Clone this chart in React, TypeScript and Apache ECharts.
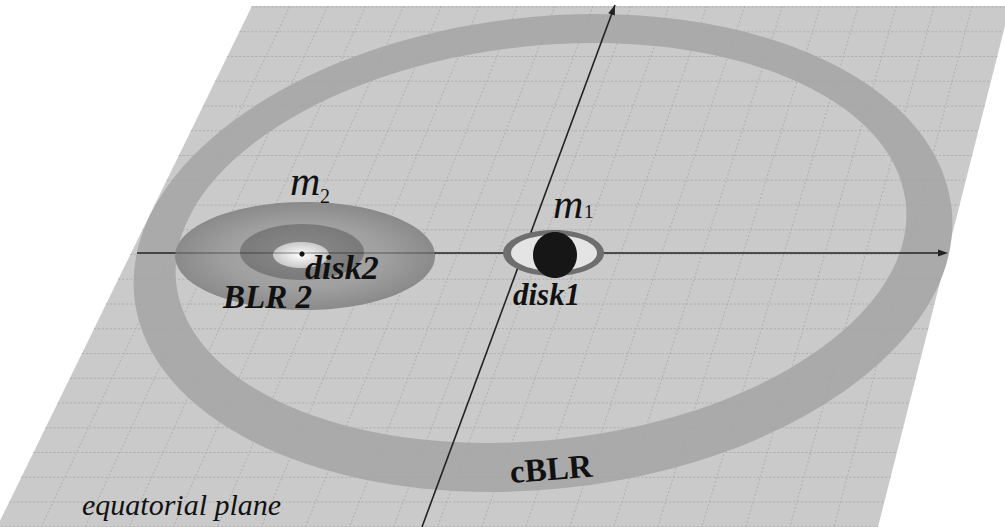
import { useEffect, useRef } from "react";
import * as echarts from "echarts";

// labels of the diagram
const massLabels = ["m", "m"];
const massIndex = ["2", "1"];
const regionLabels = ["disk2", "BLR 2", "disk1"];
const ringLabel = "cBLR";
const planeLabel = "equatorial plane";

// plane corners (top-left, top-right, bottom-right, bottom-left)
const plane = [
  [252, 6],
  [1010, 6],
  [878, 527],
  [-3, 527],
];

const SERIF = "Liberation Serif";

function leftX(y: number) {
  return plane[0][0] + ((plane[3][0] - plane[0][0]) * (y - plane[0][1])) / (plane[3][1] - plane[0][1]);
}
function rightX(y: number) {
  return plane[1][0] + ((plane[2][0] - plane[1][0]) * (y - plane[1][1])) / (plane[2][1] - plane[1][1]);
}

function arrowHead(tip: number[], from: number[], len: number, half: number) {
  const dx = tip[0] - from[0];
  const dy = tip[1] - from[1];
  const d = Math.hypot(dx, dy);
  const ux = dx / d;
  const uy = dy / d;
  const bx = tip[0] - ux * len;
  const by = tip[1] - uy * len;
  return [
    [tip[0], tip[1]],
    [bx - uy * half, by + ux * half],
    [bx + uy * half, by - ux * half],
  ];
}

function txt(
  text: string,
  x: number,
  baseline: number,
  size: number,
  opts: { style?: string; weight?: string; rotation?: number; align?: string } = {}
) {
  return {
    type: "text",
    x,
    y: baseline,
    rotation: opts.rotation || 0,
    z: 50,
    style: {
      text,
      x: 0,
      y: -0.34 * size,
      fontSize: size,
      fontFamily: SERIF,
      fontStyle: opts.style || "normal",
      fontWeight: opts.weight || "normal",
      fill: "#111",
      align: opts.align || "left",
      verticalAlign: "middle",
    },
  };
}

export default function App() {
  const ref = useRef<HTMLDivElement>(null);

  useEffect(() => {
    if (!ref.current) return;
    const chart = echarts.init(ref.current, null, { renderer: "svg" });

    const gridLines: any[] = [];
    const dash = { stroke: "#a6a6a6", lineWidth: 0.8, lineDash: [2, 2] };
    // horizontal dashed lines
    for (let y = 7; y <= 527; y += 24.75) {
      gridLines.push({
        type: "line",
        z: 10,
        shape: { x1: leftX(y), y1: y, x2: rightX(y), y2: y },
        style: dash,
      });
    }
    // slanted dashed lines
    const n = 20;
    for (let i = 1; i < n; i++) {
      const xt = plane[0][0] + ((plane[1][0] - plane[0][0]) * i) / n;
      const xb = plane[3][0] + ((plane[2][0] - plane[3][0]) * i) / n;
      gridLines.push({
        type: "line",
        z: 10,
        shape: { x1: xt, y1: plane[0][1], x2: xb, y2: plane[3][1] },
        style: dash,
      });
    }

    const phi = 0.11;
    const hStart = [137, 253];
    const hEnd = [948, 253];
    const vStart = [422, 527];
    const vEnd = [615, 5];

    const graphic: any[] = [
      {
        type: "polygon",
        z: 1,
        shape: { points: plane },
        style: { fill: "#cacaca" },
      },
      // cBLR ring
      {
        type: "ellipse",
        z: 2,
        x: 543,
        y: 253,
        rotation: phi,
        shape: { cx: 0, cy: 0, rx: 411, ry: 236 },
        style: { fill: "#aaaaaa" },
      },
      {
        type: "ellipse",
        z: 3,
        x: 541,
        y: 243,
        rotation: phi,
        shape: { cx: 0, cy: 0, rx: 367, ry: 197 },
        style: { fill: "#cacaca" },
      },
      ...gridLines,
      // axes
      {
        type: "line",
        z: 20,
        shape: { x1: hStart[0], y1: hStart[1], x2: hEnd[0] - 6, y2: hEnd[1] },
        style: { stroke: "#222", lineWidth: 1.6 },
      },
      {
        type: "polygon",
        z: 20,
        shape: { points: arrowHead(hEnd, hStart, 10, 3.5) },
        style: { fill: "#222" },
      },
      {
        type: "line",
        z: 20,
        shape: { x1: vStart[0], y1: vStart[1], x2: vEnd[0], y2: vEnd[1] },
        style: { stroke: "#222", lineWidth: 1.6 },
      },
      {
        type: "polygon",
        z: 20,
        shape: { points: arrowHead(vEnd, vStart, 10, 3.5) },
        style: { fill: "#222" },
      },
      // BLR 2
      {
        type: "ellipse",
        z: 30,
        shape: { cx: 305, cy: 256, rx: 130, ry: 54 },
        style: {
          fill: new echarts.graphic.RadialGradient(0.5, 0.5, 0.5, [
            { offset: 0, color: "#ababab" },
            { offset: 0.6, color: "#a0a0a0" },
            { offset: 1, color: "#8a8a8a" },
          ]),
        },
      },
      {
        type: "ellipse",
        z: 31,
        shape: { cx: 302, cy: 252, rx: 62, ry: 28 },
        style: {
          fill: new echarts.graphic.RadialGradient(0.5, 0.5, 0.5, [
            { offset: 0, color: "#8a8a8a" },
            { offset: 1, color: "#7a7a7a" },
          ]),
        },
      },
      {
        type: "ellipse",
        z: 32,
        shape: { cx: 301, cy: 255, rx: 28, ry: 13 },
        style: {
          fill: new echarts.graphic.RadialGradient(0.5, 0.5, 0.5, [
            { offset: 0, color: "#ffffff" },
            { offset: 1, color: "#c8c8c8" },
          ]),
        },
      },
      {
        type: "line",
        z: 33,
        shape: { x1: 175, y1: 253, x2: 436, y2: 253 },
        style: { stroke: "#000", lineWidth: 1.4, opacity: 0.3 },
      },
      {
        type: "circle",
        z: 34,
        shape: { cx: 302, cy: 254, r: 2.6 },
        style: { fill: "#111" },
      },
      // disk 1
      {
        type: "ellipse",
        z: 30,
        shape: { cx: 553.5, cy: 253, rx: 50.5, ry: 23 },
        style: { fill: "#6e6e6e" },
      },
      {
        type: "ellipse",
        z: 31,
        shape: { cx: 554, cy: 253, rx: 43, ry: 18 },
        style: { fill: "#e4e4e4" },
      },
      {
        type: "ellipse",
        z: 32,
        shape: { cx: 555, cy: 255, rx: 22, ry: 23 },
        style: { fill: "#161616" },
      },
      // labels
      txt(massLabels[0], 290, 195, 42, { style: "italic" }),
      txt(massIndex[0], 320, 203, 20),
      txt(massLabels[1], 553, 218, 42, { style: "italic" }),
      txt(massIndex[1], 584, 218, 19),
      txt(regionLabels[0], 305, 279, 34, { style: "italic", weight: "bold" }),
      txt(regionLabels[1], 223, 308, 33, { style: "italic", weight: "bold" }),
      txt(regionLabels[2], 513, 305, 31, { style: "italic", weight: "bold" }),
      txt(ringLabel, 552, 480, 33, { weight: "bold", rotation: 0.08, align: "center" }),
      txt(planeLabel, 82, 515, 30, { style: "italic" }),
    ];

    chart.setOption({
      animation: false,
      backgroundColor: "#ffffff",
      graphic,
    });

    return () => {
      chart.dispose();
    };
  }, []);

  return (
    <div
      ref={ref}
      style={{ position: "fixed", left: 0, top: 0, width: 1005, height: 527 }}
    />
  );
}
